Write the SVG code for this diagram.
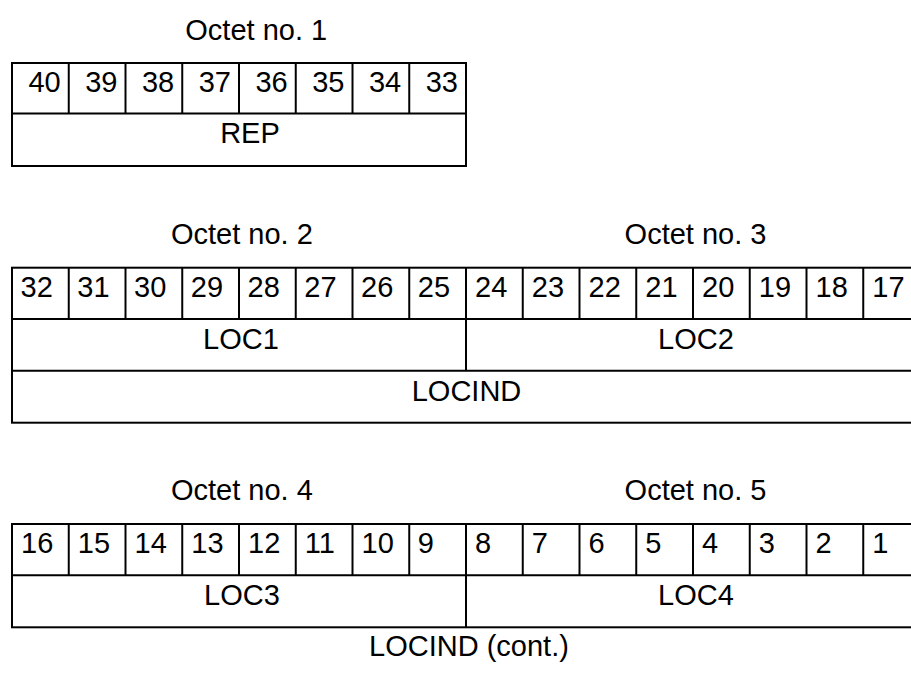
<svg xmlns="http://www.w3.org/2000/svg" width="911" height="673" viewBox="0 0 911 673">
<style>
  .bg { fill: #ffffff; }
  .cell { fill: none; stroke: #000000; stroke-width: 2; }
  .ln { stroke: #000000; stroke-width: 2; fill: none; }
  text { font-family: "Liberation Sans", Arial, sans-serif; font-size: 29px; fill: #000000; }
  .mid { text-anchor: middle; }
  .end { text-anchor: end; }
</style>
<rect class="bg" x="0" y="0" width="911" height="673"/>

<g id="titles">
  <text x="185.3" y="39.5">Octet no. 1</text>
  <text x="171" y="244">Octet no. 2</text>
  <text x="624.6" y="244">Octet no. 3</text>
  <text x="171" y="500">Octet no. 4</text>
  <text x="624.6" y="500">Octet no. 5</text>
</g>

<g id="octet1">
  <rect class="cell" x="12" y="63" width="454" height="103"/>
  <line class="ln" x1="12" y1="113.5" x2="466" y2="113.5"/>
  <line class="ln" x1="68.75" y1="63" x2="68.75" y2="113.5"/>
  <line class="ln" x1="125.5" y1="63" x2="125.5" y2="113.5"/>
  <line class="ln" x1="182.25" y1="63" x2="182.25" y2="113.5"/>
  <line class="ln" x1="239" y1="63" x2="239" y2="113.5"/>
  <line class="ln" x1="295.75" y1="63" x2="295.75" y2="113.5"/>
  <line class="ln" x1="352.5" y1="63" x2="352.5" y2="113.5"/>
  <line class="ln" x1="409.25" y1="63" x2="409.25" y2="113.5"/>
  <g class="end">
    <text x="60.75" y="91.5">40</text>
    <text x="117.5" y="91.5">39</text>
    <text x="174.25" y="91.5">38</text>
    <text x="231" y="91.5">37</text>
    <text x="287.75" y="91.5">36</text>
    <text x="344.5" y="91.5">35</text>
    <text x="401.25" y="91.5">34</text>
    <text x="458" y="91.5">33</text>
  </g>
  <g id="rep"><text class="mid" x="250" y="143.3">REP</text></g>
</g>

<g id="octets23">
  <rect class="cell" x="12" y="267.7" width="908" height="155"/>
  <line class="ln" x1="12" y1="319" x2="920" y2="319"/>
  <line class="ln" x1="12" y1="370.7" x2="920" y2="370.7"/>
  <line class="ln" x1="466" y1="267.7" x2="466" y2="370.7"/>
  <line class="ln" x1="68.75" y1="267.7" x2="68.75" y2="319"/>
  <line class="ln" x1="125.5" y1="267.7" x2="125.5" y2="319"/>
  <line class="ln" x1="182.25" y1="267.7" x2="182.25" y2="319"/>
  <line class="ln" x1="239" y1="267.7" x2="239" y2="319"/>
  <line class="ln" x1="295.75" y1="267.7" x2="295.75" y2="319"/>
  <line class="ln" x1="352.5" y1="267.7" x2="352.5" y2="319"/>
  <line class="ln" x1="409.25" y1="267.7" x2="409.25" y2="319"/>
  <line class="ln" x1="522.75" y1="267.7" x2="522.75" y2="319"/>
  <line class="ln" x1="579.5" y1="267.7" x2="579.5" y2="319"/>
  <line class="ln" x1="636.25" y1="267.7" x2="636.25" y2="319"/>
  <line class="ln" x1="693" y1="267.7" x2="693" y2="319"/>
  <line class="ln" x1="749.75" y1="267.7" x2="749.75" y2="319"/>
  <line class="ln" x1="806.5" y1="267.7" x2="806.5" y2="319"/>
  <line class="ln" x1="863.25" y1="267.7" x2="863.25" y2="319"/>
  <g>
    <text x="20.5" y="296.5">32</text>
    <text x="77.25" y="296.5">31</text>
    <text x="134" y="296.5">30</text>
    <text x="190.75" y="296.5">29</text>
    <text x="247.5" y="296.5">28</text>
    <text x="304.25" y="296.5">27</text>
    <text x="361" y="296.5">26</text>
    <text x="417.75" y="296.5">25</text>
    <text x="475" y="296.5">24</text>
    <text x="531.75" y="296.5">23</text>
    <text x="588.5" y="296.5">22</text>
    <text x="645.25" y="296.5">21</text>
    <text x="702" y="296.5">20</text>
    <text x="758.75" y="296.5">19</text>
    <text x="815.5" y="296.5">18</text>
    <text x="872.25" y="296.5">17</text>
  </g>
  <g id="loc1"><text class="mid" x="241" y="348.5">LOC1</text></g>
  <g id="loc2"><text class="mid" x="696" y="348.5">LOC2</text></g>
  <g id="locind"><text class="mid" x="466.5" y="400.5">LOCIND</text></g>
</g>

<g id="octets45">
  <rect class="cell" x="12" y="524" width="908" height="103.3"/>
  <line class="ln" x1="12" y1="575.3" x2="920" y2="575.3"/>
  <line class="ln" x1="466" y1="524" x2="466" y2="627.3"/>
  <line class="ln" x1="68.75" y1="524" x2="68.75" y2="575.3"/>
  <line class="ln" x1="125.5" y1="524" x2="125.5" y2="575.3"/>
  <line class="ln" x1="182.25" y1="524" x2="182.25" y2="575.3"/>
  <line class="ln" x1="239" y1="524" x2="239" y2="575.3"/>
  <line class="ln" x1="295.75" y1="524" x2="295.75" y2="575.3"/>
  <line class="ln" x1="352.5" y1="524" x2="352.5" y2="575.3"/>
  <line class="ln" x1="409.25" y1="524" x2="409.25" y2="575.3"/>
  <line class="ln" x1="522.75" y1="524" x2="522.75" y2="575.3"/>
  <line class="ln" x1="579.5" y1="524" x2="579.5" y2="575.3"/>
  <line class="ln" x1="636.25" y1="524" x2="636.25" y2="575.3"/>
  <line class="ln" x1="693" y1="524" x2="693" y2="575.3"/>
  <line class="ln" x1="749.75" y1="524" x2="749.75" y2="575.3"/>
  <line class="ln" x1="806.5" y1="524" x2="806.5" y2="575.3"/>
  <line class="ln" x1="863.25" y1="524" x2="863.25" y2="575.3"/>
  <g>
    <text x="21" y="552.8">16</text>
    <text x="77.75" y="552.8">15</text>
    <text x="134.5" y="552.8">14</text>
    <text x="191.25" y="552.8">13</text>
    <text x="248" y="552.8">12</text>
    <text x="304.75" y="552.8">11</text>
    <text x="361.5" y="552.8">10</text>
    <text x="417.75" y="552.8">9</text>
    <text x="475" y="552.8">8</text>
    <text x="531.75" y="552.8">7</text>
    <text x="588.5" y="552.8">6</text>
    <text x="645.25" y="552.8">5</text>
    <text x="702" y="552.8">4</text>
    <text x="758.75" y="552.8">3</text>
    <text x="815.5" y="552.8">2</text>
    <text x="872.25" y="552.8">1</text>
  </g>
  <g id="loc3"><text class="mid" x="242" y="604.5">LOC3</text></g>
  <g id="loc4"><text class="mid" x="696" y="604.5">LOC4</text></g>
  <g id="locind-cont"><text class="mid" x="469" y="656">LOCIND (cont.)</text></g>
</g>

<g id="connectors"></g>
</svg>
